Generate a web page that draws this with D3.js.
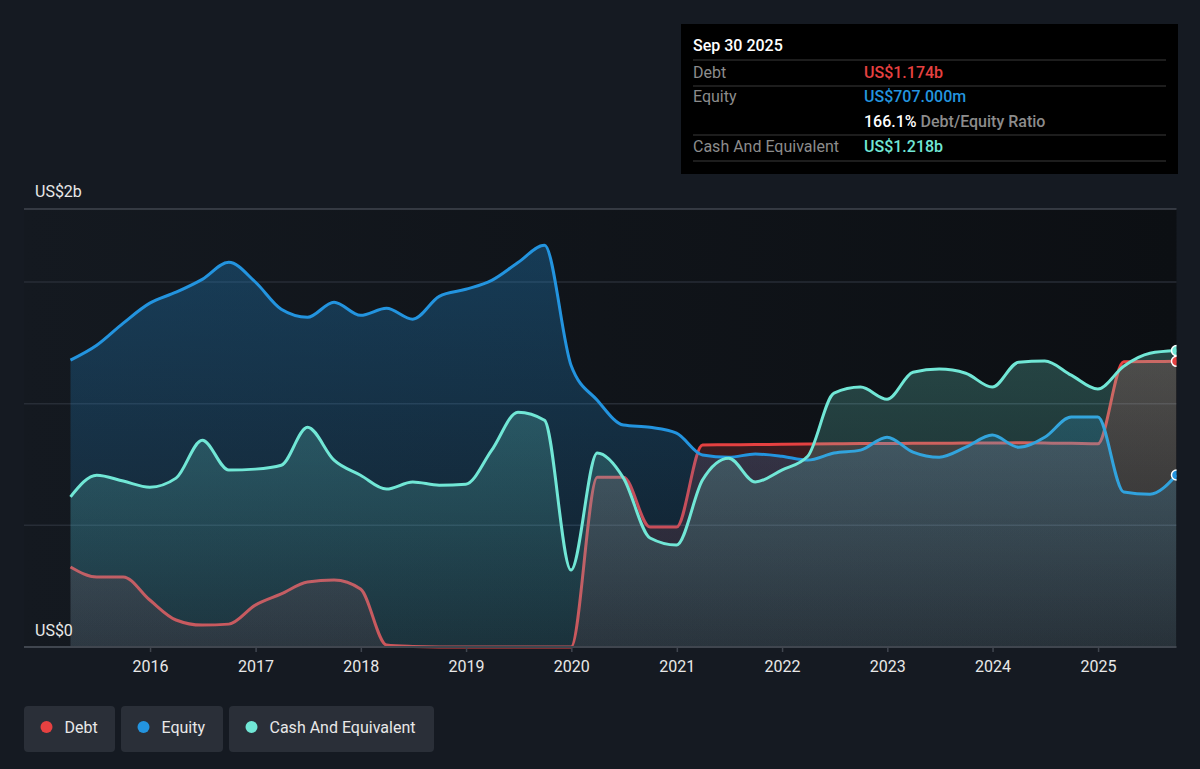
<!DOCTYPE html>
<html><head><meta charset="utf-8">
<script src="https://cdn.jsdelivr.net/npm/d3@7"></script>
<style>
html,body{margin:0;padding:0;background:#151a22;}
svg{display:block;font-family:Roboto,"Noto Sans",sans-serif;}
</style></head><body>
<svg id="chart" width="1200" height="769"></svg>
<script>
// ---- data (values in US$ billions) ----
const dates = [
 "2015-03-31","2015-06-30","2015-09-30","2015-12-31",
 "2016-03-31","2016-06-30","2016-09-30","2016-12-31",
 "2017-03-31","2017-06-30","2017-09-30","2017-12-31",
 "2018-03-31","2018-06-30","2018-09-30","2018-12-31",
 "2019-03-31","2019-06-30","2019-09-30","2019-12-31",
 "2020-03-31","2020-06-30","2020-09-30","2020-12-31",
 "2021-03-31","2021-06-30","2021-09-30","2021-12-31",
 "2022-03-31","2022-06-30","2022-09-30","2022-12-31",
 "2023-03-31","2023-06-30","2023-09-30","2023-12-31",
 "2024-03-31","2024-06-30","2024-09-30","2024-12-31",
 "2025-03-31","2025-06-30","2025-09-30"];
const debt = [
 0.329,0.288,0.288,0.193, 0.111,0.090,0.094,0.172, 0.218,0.267,0.275,0.238,
 0.008,0.002,0.000,0.000, 0.000,0.000,0.000,0.000, 0.698,0.698,0.493,0.493,
 0.830,0.831,0.832,0.833, 0.834,0.835,0.836,0.836, 0.837,0.837,0.838,0.838,
 0.839,0.838,0.837,0.835, 1.172,1.173,1.174];
const equity = [
 1.179,1.240,1.331,1.413, 1.458,1.511,1.581,1.500, 1.388,1.355,1.417,1.363,
 1.392,1.347,1.441,1.470, 1.507,1.580,1.651,1.158, 1.014,0.912,0.903,0.879,
 0.789,0.780,0.793,0.784, 0.768,0.797,0.809,0.862, 0.801,0.780,0.821,0.871,
 0.821,0.862,0.945,0.945, 0.637,0.628,0.707];
const cash = [
 0.617,0.706,0.682,0.657, 0.694,0.850,0.727,0.731, 0.747,0.903,0.768,0.706,
 0.649,0.678,0.665,0.669, 0.809,0.965,0.932,0.316, 0.797,0.694,0.448,0.419,
 0.686,0.776,0.678,0.727, 0.784,1.043,1.068,1.018, 1.129,1.142,1.125,1.068,
 1.170,1.175,1.117,1.060, 1.154,1.207,1.218];
const xTickYears = ["2016","2017","2018","2019","2020","2021","2022","2023","2024","2025"];
const yTickValues = [0, 1.8];
const yTickLabels = ["US$0","US$2b"];
const gridValues = [0.5, 1.0, 1.5];
const seriesNames = ["Debt","Equity","Cash And Equivalent"];
const seriesColors = ["#e64141","#2394df","#71e7d6"];
const tooltipTitle = "Sep 30 2025";
const tooltipRows = [
 {label:"Debt", value:"US$1.174b", color:"#e64141"},
 {label:"Equity", value:"US$707.000m", color:"#2394df"},
 {label:"", value:"166.1%", extra:" Debt/Equity Ratio", color:"#ffffff"},
 {label:"Cash And Equivalent", value:"US$1.218b", color:"#71e7d6"}
];

// ---- chart ----
const FS = 16;
const svg = d3.select("#chart");
const parse = d3.utcParse("%Y-%m-%d");
const dd = dates.map(parse);
const x = d3.scaleUtc().domain([dd[0], dd[dd.length-1]]).range([70.5, 1176.5]);
const y = d3.scaleLinear().domain([0, 1.8]).range([647, 209]);
const left = 24, right = 1176.5;

const defs = svg.append("defs");
const bgGrad = defs.append("linearGradient").attr("id","plotbg")
  .attr("x1",0).attr("x2",1).attr("y1",0).attr("y2",0);
bgGrad.append("stop").attr("offset",0).attr("stop-color","#141920");
bgGrad.append("stop").attr("offset",1).attr("stop-color","#0c0f13");
defs.append("clipPath").attr("id","plotclip").append("rect")
  .attr("x",left).attr("y",150).attr("width",right-left).attr("height",520);

svg.append("rect").attr("x",left).attr("y",y(1.8)).attr("width",right-left)
  .attr("height",y(0)-y(1.8)).attr("fill","url(#plotbg)");

// grid
svg.append("g").selectAll("line").data(gridValues).join("line")
  .attr("x1",left).attr("x2",right).attr("y1",d=>y(d)).attr("y2",d=>y(d))
  .attr("stroke","#272d36").attr("stroke-width",1.5);

const series = [debt, equity, cash];
series.forEach((vals,i)=>{
  const g = defs.append("linearGradient").attr("id","ag"+i)
    .attr("gradientUnits","userSpaceOnUse").attr("x1",0).attr("x2",0)
    .attr("y1",y(1.8)).attr("y2",y(0));
  g.append("stop").attr("offset",0).attr("stop-color",seriesColors[i]).attr("stop-opacity",0.32);
  g.append("stop").attr("offset",1).attr("stop-color",seriesColors[i]).attr("stop-opacity",0.09);
});

const pts = i => series[i].map((v,k)=>({d:dd[k], v}));
const area = d3.area().x(p=>x(p.d)).y0(y(0)).y1(p=>y(p.v)).curve(d3.curveMonotoneX);
const line = d3.line().x(p=>x(p.d)).y(p=>y(p.v)).curve(d3.curveMonotoneX);

const plot = svg.append("g").attr("clip-path","url(#plotclip)");
series.forEach((vals,i)=>{
  plot.append("path").datum(pts(i)).attr("d",area).attr("fill","url(#ag"+i+")");
  plot.append("path").datum(pts(i)).attr("d",line).attr("fill","none")
    .attr("stroke",seriesColors[i]).attr("stroke-width",3).attr("stroke-linejoin","round");
});
series.forEach((vals,i)=>{
  plot.append("circle").attr("cx",x(dd[dd.length-1])).attr("cy",y(vals[vals.length-1]))
    .attr("r",5).attr("fill",seriesColors[i]).attr("stroke","#ffffff").attr("stroke-width",1.5);
});

// top line and baseline
svg.append("line").attr("x1",left).attr("x2",right).attr("y1",y(1.8)).attr("y2",y(1.8))
  .attr("stroke","#40464f").attr("stroke-width",1.5);
svg.append("line").attr("x1",left).attr("x2",right).attr("y1",y(0)).attr("y2",y(0))
  .attr("stroke","#40464f").attr("stroke-width",2);

// x axis
const xTicks = xTickYears.map(s=>parse(s+"-01-01"));
const xa = svg.append("g").attr("transform",`translate(0,${y(0)})`)
  .call(d3.axisBottom(x).tickValues(xTicks).tickFormat((d,i)=>xTickYears[i]).tickSize(5).tickPadding(9));
xa.select(".domain").remove();
xa.selectAll(".tick line").attr("stroke","#40464f").attr("stroke-width",1.5);
xa.selectAll(".tick text").attr("fill","#e8e8e8").attr("font-size",FS)
  .attr("font-family","Roboto,sans-serif");

// y labels
const ylab = svg.append("g");
ylab.selectAll("text").data(yTickValues).join("text")
  .attr("x",35).attr("y",(d,i)=> i===0 ? y(d)-11 : y(d)-12)
  .attr("fill","#e8e8e8").attr("font-size",FS).text((d,i)=>yTickLabels[i]);

// legend
const legend = svg.append("g");
const legW = [91, 102, 205];
let lx = 24;
seriesNames.forEach((n,i)=>{
  const g = legend.append("g").attr("transform",`translate(${lx},706)`);
  g.append("rect").attr("width",legW[i]).attr("height",46).attr("rx",4).attr("fill","#2a2f38");
  g.append("circle").attr("cx",22.5).attr("cy",21).attr("r",6).attr("fill",seriesColors[i]);
  g.append("text").attr("x",40.5).attr("y",26.5).attr("fill","#e8e8e8").attr("font-size",FS).text(n);
  lx += legW[i] + 6;
});

// tooltip
const tt = svg.append("g");
tt.append("rect").attr("x",681).attr("y",24).attr("width",497).attr("height",150).attr("fill","#000");
tt.append("text").attr("x",693).attr("y",51).attr("fill","#ffffff").attr("font-size",FS)
  .attr("font-weight",500).text(tooltipTitle);
[60, 86, 135, 161].forEach(yy=>{
  tt.append("line").attr("x1",693).attr("x2",1166).attr("y1",yy).attr("y2",yy)
    .attr("stroke","#3a3a3a").attr("stroke-width",1.2);
});
const rowY = [78, 102, 127, 152];
tooltipRows.forEach((r,i)=>{
  if(r.label) tt.append("text").attr("x",693).attr("y",rowY[i]).attr("fill","#8c8c8c")
    .attr("font-size",FS).text(r.label);
  const t = tt.append("text").attr("x",864).attr("y",rowY[i]).attr("font-size",FS);
  t.append("tspan").attr("fill",r.color).attr("font-weight",500).text(r.value);
  if(r.extra) t.append("tspan").attr("fill","#8c8c8c").attr("font-weight",500).text(r.extra);
});
</script>
</body></html>
